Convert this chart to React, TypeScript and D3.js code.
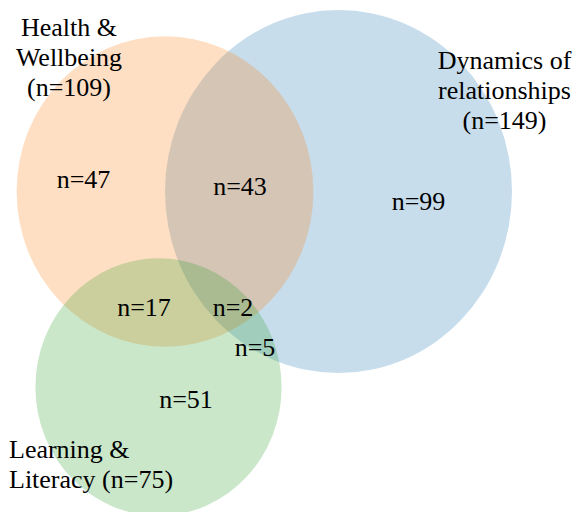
import React from "react";
import * as d3 from "d3";

// set sizes
const setNames = ["Dynamics of relationships", "Health & Wellbeing", "Learning & Literacy"];
const setSizes = [149, 109, 75];
const setColors = ["#1f77b4", "#ff7f0e", "#2ca02c"];

// region counts
const regionLabels = ["n=47", "n=43", "n=99", "n=17", "n=2", "n=5", "n=51"];

let sizing = { width: 580, height: 512 };

// circle centres in layout units (px of a 580 wide canvas)
const centers: [number, number][] = [
  [338.5, 191.5],
  [165, 191.5],
  [158.5, 387],
];

// label anchor points for regions
const regionPos: [number, number][] = [
  [83.5, 188],
  [240, 195],
  [418.5, 210],
  [144, 316],
  [233, 316],
  [255, 356],
  [186, 408],
];

const titleLines = [
  ["Dynamics of", "relationships", "(n=149)"],
  ["Health &", "Wellbeing", "(n=109)"],
  ["Learning &", "Literacy (n=75)"],
];
const titlePos: [number, number, string][] = [
  [504.5, 69, "middle"],
  [69, 36, "middle"],
  [9, 458, "start"],
];

const font = "Liberation Serif, Times New Roman, DejaVu Serif, serif";
const fontSize = 26;

export default function App() {
  const x = d3.scaleLinear().domain([0, sizing.width]).range([0, sizing.width]);
  const y = d3.scaleLinear().domain([0, sizing.height]).range([0, sizing.height]);
  const r = d3.scaleSqrt().domain([0, 149]).range([0, 173.5]);
  const stretch = 1.046;

  // draw blue first, then orange, then green on top
  const circles = setSizes.map((n, i) => (
    <ellipse
      key={`c${i}`}
      cx={x(centers[i][0])}
      cy={y(centers[i][1])}
      rx={r(n)}
      ry={r(n) * stretch}
      fill={setColors[i]}
      fillOpacity={0.25}
    />
  ));

  const labels = regionLabels.map((t, i) => (
    <text
      key={`r${i}`}
      x={x(regionPos[i][0])}
      y={y(regionPos[i][1])}
      fontFamily={font}
      fontSize={fontSize}
      textAnchor="middle"
    >
      {t}
    </text>
  ));

  const titles = titleLines.map((lines, i) => (
    <g key={`t${i}`} aria-label={setNames[i]}>
      {lines.map((l, j) => (
        <text
          key={j}
          x={x(titlePos[i][0])}
          y={y(titlePos[i][1] + j * 30)}
          fontFamily={font}
          fontSize={fontSize}
          textAnchor={titlePos[i][2]}
        >
          {l}
        </text>
      ))}
    </g>
  ));

  return (
    <svg
      width={sizing.width}
      height={sizing.height}
      style={{ position: "absolute", left: 0, top: 0, background: "#fff" }}
    >
      {circles}
      {labels}
      {titles}
    </svg>
  );
}
